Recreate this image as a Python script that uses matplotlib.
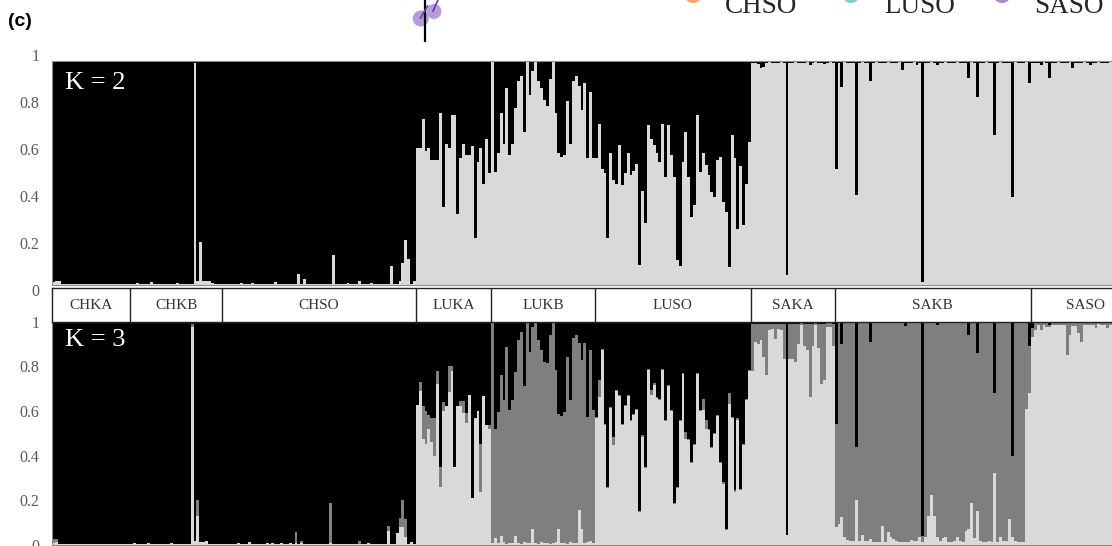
import numpy as np
import matplotlib
matplotlib.use('Agg')
import matplotlib.pyplot as plt
from matplotlib.patches import Circle

plt.rcParams['font.family'] = ['Liberation Serif', 'DejaVu Serif']

W, H = 1112, 546

pops = ['CHKA', 'CHKB', 'CHSO', 'LUKA', 'LUKB', 'LUSO', 'SAKA', 'SAKB', 'SASO']

# K = 2 : share of the light cluster per individual (black = rest)
chka_k2 = [0.012, 0.018, 0.016, 0.005, 0.004, 0.005, 0.004, 0.005, 0.004, 0.005,
           0.004, 0.005, 0.004, 0.005, 0.005, 0.004, 0.005, 0.004, 0.005, 0.004,
           0.005, 0.004, 0.005, 0.004, 0.005, 0.004, 0.005]
chkb_k2 = [0.005, 0.004, 0.008, 0.004, 0.005, 0.004, 0.005, 0.012, 0.005, 0.004,
           0.005, 0.004, 0.005, 0.004, 0.005, 0.004, 0.010, 0.004, 0.005, 0.004,
           0.005, 0.004, 0.990, 0.020, 0.190, 0.020, 0.018, 0.018, 0.008, 0.004,
           0.005, 0.004]
chso_k2 = [0.006, 0.005, 0.004, 0.005, 0.004, 0.005, 0.008, 0.004, 0.005, 0.004,
           0.008, 0.004, 0.005, 0.004, 0.005, 0.004, 0.005, 0.004, 0.012, 0.004,
           0.005, 0.004, 0.005, 0.004, 0.005, 0.004, 0.050, 0.004, 0.025, 0.004,
           0.005, 0.004, 0.005, 0.004, 0.005, 0.004, 0.005, 0.004, 0.135, 0.004,
           0.005, 0.004, 0.005, 0.008, 0.004, 0.005, 0.004, 0.020, 0.004, 0.005,
           0.004, 0.008, 0.004, 0.005, 0.004, 0.005, 0.004, 0.005, 0.086, 0.004,
           0.005, 0.020, 0.100, 0.200, 0.115, 0.003, 0.020]
luka_k2 = [0.61, 0.61, 0.74, 0.60, 0.61, 0.56, 0.56, 0.56, 0.77, 0.35,
           0.63, 0.61, 0.76, 0.76, 0.315, 0.565, 0.63, 0.58, 0.58, 0.62,
           0.21, 0.55, 0.61, 0.45, 0.65, 0.50]
lukb_k2 = [0.995, 0.506, 0.59, 0.77, 0.63, 0.88, 0.58, 0.63, 0.79, 0.91,
           0.935, 0.685, 0.995, 0.85, 0.955, 0.995, 0.91, 0.88, 0.825, 0.80,
           0.92, 0.995, 0.766, 0.59, 0.57, 0.58, 0.82, 0.63, 0.91, 0.935,
           0.89, 0.78, 0.90, 0.565, 0.86, 0.565]
luso_k2 = [0.565, 0.72, 0.52, 0.50, 0.21, 0.59, 0.47, 0.45, 0.625, 0.445,
           0.50, 0.59, 0.49, 0.51, 0.54, 0.09, 0.42, 0.275, 0.715, 0.65,
           0.625, 0.59, 0.55, 0.717, 0.48, 0.715, 0.58, 0.48, 0.11, 0.086,
           0.55, 0.685, 0.48, 0.305, 0.357, 0.76, 0.506, 0.59, 0.536, 0.49,
           0.414, 0.394, 0.56, 0.57, 0.372, 0.327, 0.082, 0.67, 0.565, 0.25,
           0.53, 0.27, 0.45, 0.64]
saka_k2 = [0.992, 0.99, 0.985, 0.967, 0.975, 0.99, 0.995, 0.99, 0.993, 0.99,
           0.995, 0.99, 0.045, 0.993, 0.99, 0.995, 0.99, 0.993, 0.99, 0.995,
           0.98, 0.99, 0.995, 0.99, 0.993, 0.985, 0.99, 0.995, 0.99]
sakb_k2 = [0.52, 0.99, 0.885, 0.995, 0.99, 0.993, 0.99, 0.40, 0.99, 0.995,
           0.99, 0.993, 0.91, 0.99, 0.995, 0.99, 0.993, 0.99, 0.995, 0.99,
           0.993, 0.99, 0.995, 0.96, 0.99, 0.993, 0.99, 0.995, 0.98, 0.99,
           0.015, 0.993, 0.99, 0.995, 0.99, 0.98, 0.993, 0.99, 0.995, 0.99,
           0.993, 0.99, 0.995, 0.99, 0.993, 0.99, 0.925, 0.995, 0.99, 0.84,
           0.993, 0.99, 0.995, 0.99, 0.993, 0.67, 0.99, 0.995, 0.99, 0.993,
           0.99, 0.395, 0.995, 0.99, 0.993, 0.99, 0.995, 0.90]
saso_k2 = [0.99, 0.993, 0.99, 0.98, 0.995, 0.99, 0.925, 0.993, 0.99, 0.995,
           0.99, 0.993, 0.99, 0.995, 0.97, 0.99, 0.993, 0.99, 0.995, 0.99,
           0.98, 0.993, 0.99, 0.995, 0.99, 0.993, 0.99, 0.995]

# K = 3 : light cluster (bottom) and dark grey cluster (middle), black = rest
chka_k3_light = [0.010, 0.012, 0.004, 0.003, 0.004, 0.003, 0.004, 0.003, 0.004, 0.003,
                 0.004, 0.003, 0.004, 0.003, 0.004, 0.003, 0.004, 0.003, 0.004, 0.003,
                 0.004, 0.003, 0.004, 0.003, 0.004, 0.003, 0.004]
chka_k3_mid = [0.015, 0.014, 0.0, 0.0, 0.0, 0.0, 0.0, 0.0, 0.0, 0.0,
               0.0, 0.0, 0.0, 0.0, 0.0, 0.0, 0.0, 0.0, 0.0, 0.0,
               0.0, 0.0, 0.0, 0.0, 0.0, 0.0, 0.0]
chkb_k3_light = [0.004, 0.008, 0.004, 0.003, 0.004, 0.003, 0.010, 0.003, 0.004, 0.003,
                 0.004, 0.003, 0.006, 0.003, 0.008, 0.003, 0.004, 0.003, 0.004, 0.003,
                 0.004, 0.975, 0.020, 0.130, 0.015, 0.015, 0.020, 0.004, 0.003, 0.004,
                 0.003, 0.004]
chkb_k3_mid = [0.0, 0.0, 0.0, 0.0, 0.0, 0.0, 0.0, 0.0, 0.0, 0.0,
               0.0, 0.0, 0.0, 0.0, 0.0, 0.0, 0.0, 0.0, 0.0, 0.0,
               0.0, 0.015, 0.0, 0.070, 0.0, 0.0, 0.0, 0.0, 0.0, 0.0,
               0.0, 0.0]
chso_k3_light = [0.005, 0.005, 0.003, 0.004, 0.003, 0.010, 0.003, 0.004, 0.003, 0.015,
                 0.003, 0.004, 0.003, 0.004, 0.003, 0.010, 0.003, 0.010, 0.003, 0.004,
                 0.010, 0.003, 0.004, 0.010, 0.003, 0.010, 0.003, 0.008, 0.003, 0.004,
                 0.003, 0.004, 0.003, 0.004, 0.003, 0.004, 0.003, 0.010, 0.003, 0.004,
                 0.003, 0.004, 0.003, 0.005, 0.003, 0.004, 0.003, 0.005, 0.003, 0.004,
                 0.010, 0.003, 0.004, 0.003, 0.004, 0.003, 0.004, 0.064, 0.003, 0.004,
                 0.054, 0.080, 0.080, 0.034, 0.003, 0.015, 0.004]
chso_k3_mid = [0.0, 0.0, 0.0, 0.0, 0.0, 0.0, 0.0, 0.0, 0.0, 0.0,
               0.0, 0.0, 0.0, 0.0, 0.0, 0.0, 0.0, 0.0, 0.0, 0.0,
               0.0, 0.0, 0.0, 0.0, 0.0, 0.050, 0.0, 0.012, 0.0, 0.0,
               0.0, 0.0, 0.0, 0.0, 0.0, 0.0, 0.0, 0.180, 0.0, 0.0,
               0.0, 0.0, 0.0, 0.0, 0.0, 0.0, 0.0, 0.015, 0.0, 0.0,
               0.0, 0.0, 0.0, 0.0, 0.0, 0.0, 0.0, 0.023, 0.0, 0.0,
               0.0, 0.040, 0.120, 0.083, 0.0, 0.0, 0.0]
luka_k3_light = [0.626, 0.69, 0.476, 0.45, 0.52, 0.46, 0.40, 0.72, 0.26, 0.60,
                 0.62, 0.685, 0.78, 0.35, 0.62, 0.62, 0.59, 0.545, 0.67, 0.21,
                 0.566, 0.60, 0.236, 0.666, 0.536, 0.52]
luka_k3_mid = [0.0, 0.04, 0.144, 0.15, 0.06, 0.11, 0.17, 0.06, 0.09, 0.04,
               0.0, 0.115, 0.02, 0.0, 0.0, 0.025, 0.055, 0.045, 0.0, 0.0,
               0.0, 0.0, 0.218, 0.0, 0.0, 0.016]
lukb_k3_light = [0.010, 0.030, 0.008, 0.040, 0.012, 0.006, 0.010, 0.008, 0.040, 0.010,
                 0.006, 0.012, 0.008, 0.010, 0.070, 0.008, 0.006, 0.012, 0.010, 0.008,
                 0.006, 0.010, 0.012, 0.070, 0.008, 0.010, 0.006, 0.012, 0.008, 0.010,
                 0.157, 0.070, 0.008, 0.012, 0.020, 0.010]
lukb_k3_mid = [0.985, 0.49, 0.587, 0.72, 0.636, 0.882, 0.593, 0.64, 0.735, 0.908,
               0.949, 0.699, 0.987, 0.855, 0.907, 0.987, 0.912, 0.861, 0.81, 0.805,
               0.934, 0.985, 0.771, 0.518, 0.568, 0.586, 0.837, 0.636, 0.917, 0.93,
               0.746, 0.758, 0.895, 0.561, 0.853, 0.593]
luso_k3_light = [0.568, 0.66, 0.871, 0.538, 0.255, 0.613, 0.446, 0.688, 0.665, 0.538,
                 0.621, 0.665, 0.553, 0.583, 0.605, 0.149, 0.485, 0.345, 0.781, 0.671,
                 0.718, 0.658, 0.65, 0.781, 0.553, 0.711, 0.598, 0.185, 0.255, 0.553,
                 0.763, 0.476, 0.471, 0.365, 0.449, 0.763, 0.598, 0.605, 0.518, 0.515,
                 0.435, 0.495, 0.575, 0.365, 0.275, 0.067, 0.633, 0.568, 0.239, 0.561,
                 0.245, 0.449, 0.65, 0.778]
luso_k3_mid = [0.005, 0.080, 0.005, 0.005, 0.005, 0.005, 0.037, 0.005, 0.005, 0.005,
               0.005, 0.005, 0.005, 0.005, 0.005, 0.005, 0.005, 0.005, 0.005, 0.022,
               0.005, 0.005, 0.005, 0.005, 0.005, 0.005, 0.005, 0.005, 0.005, 0.005,
               0.005, 0.030, 0.005, 0.005, 0.005, 0.005, 0.005, 0.050, 0.040, 0.005,
               0.005, 0.005, 0.005, 0.005, 0.005, 0.005, 0.045, 0.005, 0.005, 0.005,
               0.005, 0.005, 0.005, 0.005]
saka_k3_light = [0.78, 0.91, 0.90, 0.915, 0.84, 0.76, 0.96, 0.968, 0.92, 0.968,
                 0.96, 0.83, 0.045, 0.83, 0.83, 0.82, 0.9, 0.985, 0.89, 0.873,
                 0.66, 0.89, 0.985, 0.88, 0.72, 0.74, 0.977, 0.977, 0.89]
saka_k3_mid = [0.21, 0.08, 0.09, 0.075, 0.15, 0.23, 0.03, 0.022, 0.07, 0.022,
               0.03, 0.16, 0.0, 0.16, 0.16, 0.17, 0.09, 0.007, 0.10, 0.117,
               0.33, 0.10, 0.007, 0.11, 0.27, 0.25, 0.015, 0.015, 0.1]
sakb_k3_light = [0.08, 0.094, 0.127, 0.034, 0.022, 0.02, 0.02, 0.2, 0.02, 0.046,
                 0.02, 0.02, 0.025, 0.012, 0.012, 0.012, 0.087, 0.012, 0.057, 0.034,
                 0.027, 0.02, 0.012, 0.012, 0.012, 0.012, 0.022, 0.02, 0.02, 0.034,
                 0.012, 0.037, 0.13, 0.225, 0.13, 0.034, 0.02, 0.031, 0.034, 0.012,
                 0.012, 0.02, 0.034, 0.02, 0.012, 0.064, 0.07, 0.187, 0.03, 0.154,
                 0.02, 0.015, 0.012, 0.02, 0.015, 0.32, 0.015, 0.034, 0.02, 0.02,
                 0.117, 0.034, 0.02, 0.012, 0.012, 0.012, 0.61, 0.68]
sakb_k3_mid = [0.46, 0.898, 0.773, 0.958, 0.97, 0.972, 0.972, 0.24, 0.972, 0.946,
               0.972, 0.972, 0.885, 0.98, 0.98, 0.98, 0.905, 0.98, 0.935, 0.958,
               0.965, 0.972, 0.98, 0.98, 0.968, 0.98, 0.97, 0.972, 0.972, 0.958,
               0.028, 0.955, 0.862, 0.767, 0.862, 0.951, 0.972, 0.961, 0.958, 0.98,
               0.98, 0.972, 0.958, 0.972, 0.98, 0.928, 0.87, 0.805, 0.962, 0.706,
               0.972, 0.977, 0.98, 0.972, 0.977, 0.36, 0.977, 0.958, 0.972, 0.972,
               0.875, 0.366, 0.972, 0.98, 0.98, 0.98, 0.382, 0.21]
saso_k3_light = [0.93, 0.96, 0.985, 0.96, 0.985, 0.977, 0.975, 0.985, 0.985, 0.985,
                 0.985, 0.985, 0.85, 0.94, 0.98, 0.98, 0.95, 0.91, 0.985, 0.985,
                 0.985, 0.985, 0.97, 0.99, 0.985, 0.985, 0.97, 0.985]
saso_k3_mid = [0.04, 0.032, 0.007, 0.032, 0.007, 0.015, 0.01, 0.007, 0.007, 0.007,
               0.007, 0.007, 0.142, 0.052, 0.012, 0.012, 0.042, 0.082, 0.007, 0.007,
               0.007, 0.007, 0.022, 0.002, 0.007, 0.007, 0.022, 0.007]

k2_light = np.concatenate([chka_k2, chkb_k2, chso_k2, luka_k2, lukb_k2,
                           luso_k2, saka_k2, sakb_k2, saso_k2])
k3_light = np.concatenate([chka_k3_light, chkb_k3_light, chso_k3_light,
                           luka_k3_light, lukb_k3_light, luso_k3_light,
                           saka_k3_light, sakb_k3_light, saso_k3_light])
k3_mid = np.concatenate([chka_k3_mid, chkb_k3_mid, chso_k3_mid, luka_k3_mid,
                         lukb_k3_mid, luso_k3_mid, saka_k3_mid, sakb_k3_mid,
                         saso_k3_mid])
pop_sizes = [len(chka_k2), len(chkb_k2), len(chso_k2), len(luka_k2),
             len(lukb_k2), len(luso_k2), len(saka_k2), len(sakb_k2),
             len(saso_k2)]

yticks = [0, 0.2, 0.4, 0.6, 0.8, 1]
ytick_labels = ['0', '0.2', '0.4', '0.6', '0.8', '1']

legend_labels = ['CHSO', 'LUSO', 'SASO']
legend_colors = ['#F6A36E', '#7ECFC9', '#A98BD2']

c_light = '#D9D9D9'
c_mid = '#7F7F7F'
c_black = '#000000'

n = len(k2_light)
edges = np.concatenate([[0], np.cumsum(pop_sizes)])
# plot frame runs past the crop on the right (SASO box continues)
px_per_ind = 2.888
x_left_px = 52.
x_right_px = 1140.
xmax = (x_right_px - x_left_px) / px_per_ind


def fig_rect(top_px, bottom_px, left_px=x_left_px, right_px=x_right_px):
    return [left_px / W, 1 - bottom_px / H,
            (right_px - left_px) / W, (bottom_px - top_px) / H]


def style_yaxis(ax, show):
    ax.set_ylim(0, 1)
    ax.set_yticks(yticks)
    ax.set_yticklabels(ytick_labels if show else [])
    ax.tick_params(axis='y', length=0, pad=9, labelsize=11.5,
                   labelcolor='#595959')


def draw_structure(ax, layers, colors, label, label_y, show_labels=True):
    x = np.arange(n)
    base = np.zeros(n)
    for vals, col in zip(layers, colors):
        vals = np.clip(vals, 0, None)
        ax.bar(x, vals, width=1.0, bottom=base, align='edge', color=col,
               linewidth=0, antialiased=False)
        base = base + vals
    ax.set_xlim(0, xmax)
    ax.set_xticks([])
    style_yaxis(ax, show_labels)
    for sp in ax.spines.values():
        sp.set_color('#8c8c8c')
        sp.set_linewidth(0.8)
    ax.text(0.012, label_y, label, transform=ax.transAxes, color='white',
            fontsize=19, va='baseline', ha='left')


fig = plt.figure(figsize=(W / 100., H / 100.), dpi=100)

ax2 = fig.add_axes(fig_rect(61, 285))
draw_structure(ax2, [k2_light, 1 - k2_light], [c_light, c_black],
               'K = 2', 0.875, show_labels=False)
# the K = 2 tick labels sit on a slightly taller scale than the bars
ax2_lab = fig.add_axes(fig_rect(55, 290), frameon=False)
ax2_lab.set_xticks([])
style_yaxis(ax2_lab, True)
ax2_lab.patch.set_visible(False)

ax3 = fig.add_axes(fig_rect(321.5, 545))
draw_structure(ax3, [k3_light, k3_mid, 1 - k3_light - k3_mid],
               [c_light, c_mid, c_black], 'K = 3', 0.89)

# population label strip
axs = fig.add_axes(fig_rect(287.5, 321.5))
axs.set_xlim(0, xmax)
axs.set_ylim(0, 1)
axs.set_xticks([])
axs.set_yticks([])
for sp in axs.spines.values():
    sp.set_color('#222222')
    sp.set_linewidth(1.0)
box_right = list(edges[1:-1]) + [xmax]
box_left = list(edges[:-1])
for i, name in enumerate(pops):
    if i > 0:
        axs.axvline(edges[i], color='#222222', lw=1.0)
    axs.text((box_left[i] + box_right[i]) / 2., 0.48, name, ha='center',
             va='center', fontsize=11, color='#333333')

# fragments of the panel above, cut off by the crop
ov = fig.add_axes([0, 0, 1, 1])
ov.set_xlim(0, W)
ov.set_ylim(H, 0)
ov.axis('off')
ov.text(8, 21.5, '(c)', fontsize=14, fontweight='bold',
        family=['Liberation Sans', 'DejaVu Sans'], va='center', ha='left')
ov.plot([425.3, 425.3], [0, 41], color='black', lw=1.6)
ov.add_patch(Circle((420.7, 18.5), 8, color='#A98BD2', alpha=0.85, lw=0))
ov.add_patch(Circle((434, 11.5), 7.5, color='#A98BD2', alpha=0.85, lw=0))
ov.plot([420.5, 427.5], [18, 6], color='#6A3D9A', lw=1.2)
ov.plot([433, 438], [11, 0], color='#6A3D9A', lw=1.2)
legend_x = [725, 884, 1034]
legend_dot_x = [693, 851, 1002]
for lx, dx, lab, col in zip(legend_x, legend_dot_x, legend_labels,
                            legend_colors):
    ov.add_patch(Circle((dx, -6), 9, color=col, lw=0))
    ov.text(lx, 13, lab, fontsize=19.5, va='baseline', ha='left',
            color='#262626')

fig.savefig('out.png', dpi=100)
